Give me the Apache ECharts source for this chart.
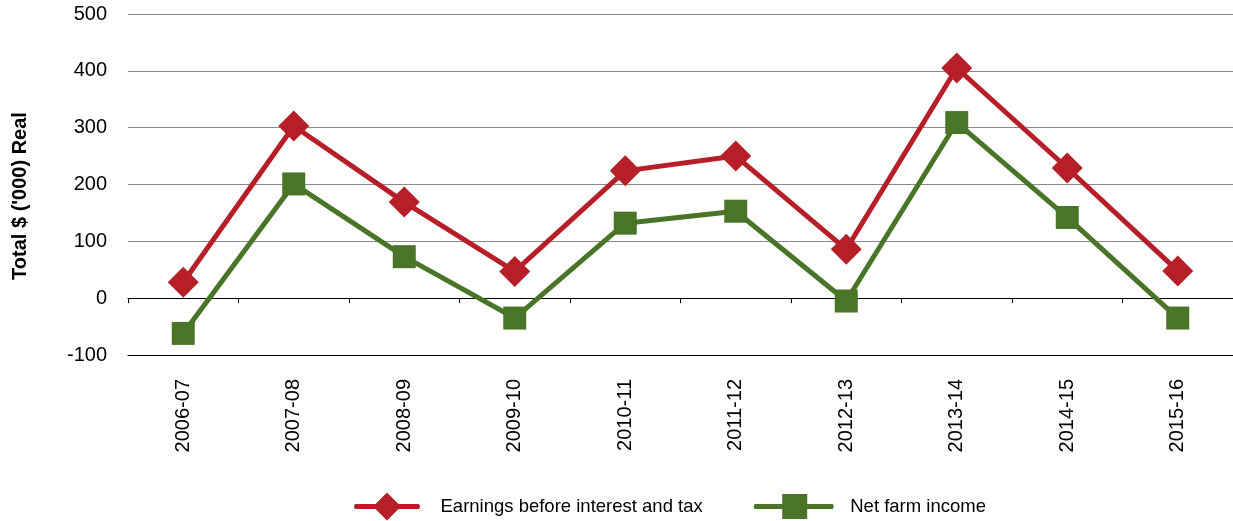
<!DOCTYPE html>
<html>
<head>
<meta charset="utf-8">
<script src="https://cdn.jsdelivr.net/npm/echarts@6/dist/echarts.min.js"></script>
<style>
  html, body { margin: 0; padding: 0; background: #fff; }
  #chart { width: 1233px; height: 521px; }
</style>
</head>
<body>
<div id="chart"></div>
<script>
// Farm financial performance, total $ ('000) real
const years = ['2006-07', '2007-08', '2008-09', '2009-10', '2010-11',
               '2011-12', '2012-13', '2013-14', '2014-15', '2015-16'];
const ebit = [28, 303, 169, 47, 224, 250, 86, 405, 229, 48];
const netFarmIncome = [-62, 201, 73, -35, 132, 153, -5, 309, 142, -35];
const yTicks = { min: -100, max: 500, step: 100 };

const RED = '#B71F28';
const GREEN = '#4A7428';
const FONT = '"Liberation Sans", Arial, sans-serif';

// Legend keys: a short stroke with the series marker on top, inside an 82x31 box.
// The zero-area triangle at the right edge keeps the path's bounds at the full box.
const ICON_EBIT = 'path://M2 13 L66 13 Q68 15.5 66 18 L2 18 Q0 15.5 2 13 Z ' +
                  'M34 1.5 L48 15.5 L34 29.5 L20 15.5 Z ' +
                  'M82 0 L82 31 L82 0 Z';
const ICON_NFI = 'path://M2 13 L80 13 Q82 15.5 80 18 L2 18 Q0 15.5 2 13 Z ' +
                 'M29.5 3 L54.5 3 L54.5 28 L29.5 28 Z ' +
                 'M82 0 L82 31 L82 0 Z';

const chart = echarts.init(document.getElementById('chart'), null, { renderer: 'canvas' });

chart.setOption({
  animation: false,
  backgroundColor: '#ffffff',
  textStyle: { fontFamily: FONT },
  grid: { left: 128, right: 0, top: 14, bottom: 166, containLabel: false },
  legend: {
    left: 354,
    top: 491,
    padding: 0,
    itemWidth: 82,
    itemHeight: 31,
    itemGap: 51,
    textStyle: { fontFamily: FONT, fontSize: 18.5, color: '#000' },
    data: [
      { name: 'Earnings before interest and tax', icon: ICON_EBIT },
      { name: 'Net farm income', icon: ICON_NFI, textStyle: { padding: [0, 0, 0, 10] } }
    ]
  },
  xAxis: [
    {
      // zero line with category separators
      type: 'category',
      data: years,
      boundaryGap: true,
      axisLine: { show: true, onZero: true, lineStyle: { color: '#000', width: 1 } },
      axisTick: { show: true, length: 5, lineStyle: { color: '#000' } },
      axisLabel: { show: false },
      splitLine: { show: false }
    },
    {
      // bottom axis carrying the year labels
      type: 'category',
      data: years,
      position: 'bottom',
      boundaryGap: true,
      axisLine: { show: true, onZero: false, lineStyle: { color: '#000', width: 1 } },
      axisTick: { show: false },
      axisLabel: {
        rotate: 90,
        margin: 24,
        fontFamily: FONT,
        fontSize: 20,
        color: '#000',
        interval: 0
      },
      splitLine: { show: false }
    }
  ],
  yAxis: {
    type: 'value',
    min: yTicks.min,
    max: yTicks.max,
    interval: yTicks.step,
    name: "Total $ ('000) Real",
    nameLocation: 'middle',
    nameRotate: 90,
    nameGap: 98,
    nameTextStyle: {
      fontFamily: FONT,
      fontSize: 20,
      fontWeight: 'bold',
      color: '#000',
      padding: [0, 23, 0, 0]
    },
    axisLine: { show: false },
    axisTick: { show: false },
    axisLabel: { fontFamily: FONT, fontSize: 20, color: '#000', margin: 21 },
    splitLine: { show: true, lineStyle: { color: '#8a8a8a', width: 1.2 } }
  },
  series: [
    {
      name: 'Earnings before interest and tax',
      type: 'line',
      xAxisIndex: 0,
      data: ebit,
      symbol: 'diamond',
      symbolSize: [31, 31],
      lineStyle: { color: RED, width: 5 },
      itemStyle: { color: RED },
      z: 3
    },
    {
      name: 'Net farm income',
      type: 'line',
      xAxisIndex: 0,
      data: netFarmIncome,
      symbol: 'rect',
      symbolSize: 23,
      lineStyle: { color: GREEN, width: 5 },
      itemStyle: { color: GREEN },
      z: 2
    }
  ]
});
</script>
</body>
</html>
